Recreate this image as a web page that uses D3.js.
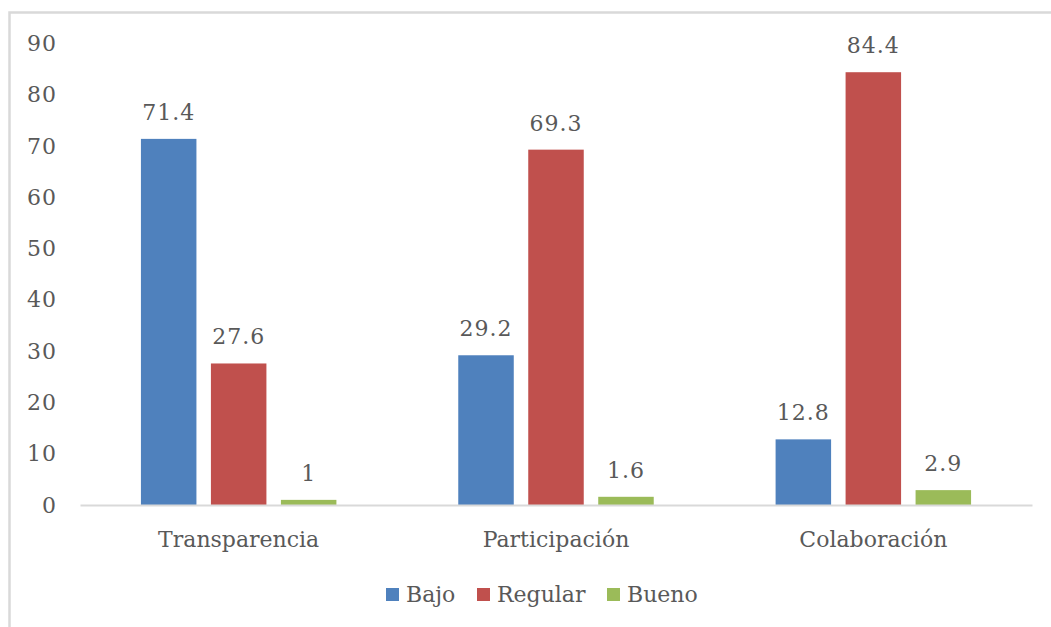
<!DOCTYPE html>
<html>
<head>
<meta charset="utf-8">
<script src="https://cdn.jsdelivr.net/npm/d3@7"></script>
<style>
  html, body { margin: 0; padding: 0; background: #fff; }
  svg { display: block; }
  text { font-family: "DejaVu Serif", serif; fill: #595959; }
</style>
</head>
<body>
<svg id="chart" width="1051" height="627"></svg>
<script>
const categories = ["Transparencia", "Participación", "Colaboración"];
const seriesNames = ["Bajo", "Regular", "Bueno"];
const bajo = [71.4, 29.2, 12.8];
const regular = [27.6, 69.3, 84.4];
const bueno = [1, 1.6, 2.9];
const yTicks = [0, 10, 20, 30, 40, 50, 60, 70, 80, 90];
const colors = ["#4F81BD", "#C0504D", "#9BBB59"];

const seriesValues = [bajo, regular, bueno];
const svg = d3.select("#chart");
const W = 1051, H = 627;
const fontSize = 22;

// frame (cropped at right/bottom)
svg.append("path")
  .attr("d", `M9.5,${H} L9.5,12.5 L${W},12.5`)
  .attr("fill", "none").attr("stroke", "#d9d9d9").attr("stroke-width", 2.5);

const plot = { left: 80, right: 1032, top: 43.5, bottom: 505 };

const x0 = d3.scaleBand().domain(categories)
  .range([plot.left, plot.right]).paddingInner(0.384).paddingOuter(0.192);
const x1 = d3.scaleBand().domain(seriesNames)
  .range([0, x0.bandwidth()]).paddingInner(0.207).paddingOuter(0);
const y = d3.scaleLinear().domain([0, 90]).range([plot.bottom, plot.top]);

// y axis labels
const yAxis = d3.axisLeft(y).tickValues(yTicks).tickSize(0).tickPadding(0).tickFormat(d3.format("d"));
const yg = svg.append("g").attr("transform", `translate(57,0)`).call(yAxis);
yg.select(".domain").remove();
yg.selectAll("text").style("font-family", "DejaVu Serif, serif").style("font-size", fontSize + "px")
  .style("letter-spacing", "1px").attr("fill", "#595959");

// bars
const groups = svg.append("g").selectAll("g")
  .data(categories).join("g")
  .attr("transform", d => `translate(${x0(d)},0)`);

groups.selectAll("rect")
  .data((c, i) => seriesNames.map((s, j) => ({ s, v: seriesValues[j][i], j })))
  .join("rect")
  .attr("x", d => x1(d.s))
  .attr("width", x1.bandwidth())
  .attr("y", d => y(d.v))
  .attr("height", d => y(0) - y(d.v))
  .attr("fill", d => colors[d.j]);

groups.selectAll("text.lbl")
  .data((c, i) => seriesNames.map((s, j) => ({ s, v: seriesValues[j][i], j })))
  .join("text").attr("class", "lbl")
  .attr("x", d => x1(d.s) + x1.bandwidth() / 2)
  .attr("y", d => y(d.v) - 19)
  .attr("text-anchor", "middle")
  .style("font-size", fontSize + "px")
  .style("letter-spacing", "1px")
  .text(d => d.v);

// x axis
const xAxis = d3.axisBottom(x0).tickSize(0).tickPadding(0);
const xg = svg.append("g").attr("transform", `translate(0,${plot.bottom})`).call(xAxis);
xg.select(".domain").attr("stroke", "#d9d9d9").attr("stroke-width", 2);
xg.selectAll("text").style("font-family", "DejaVu Serif, serif").style("font-size", fontSize + "px")
  .attr("fill", "#595959").attr("y", 42).attr("dy", 0);

// legend
const legendX = [386, 477, 607];
const lg = svg.append("g").selectAll("g").data(seriesNames).join("g")
  .attr("transform", (d, i) => `translate(${legendX[i]},588)`);
lg.append("rect").attr("width", 13).attr("height", 13).attr("fill", (d, i) => colors[i]);
lg.append("text").attr("x", 20).attr("y", 14).style("font-size", fontSize + "px").text(d => d);
</script>
</body>
</html>
